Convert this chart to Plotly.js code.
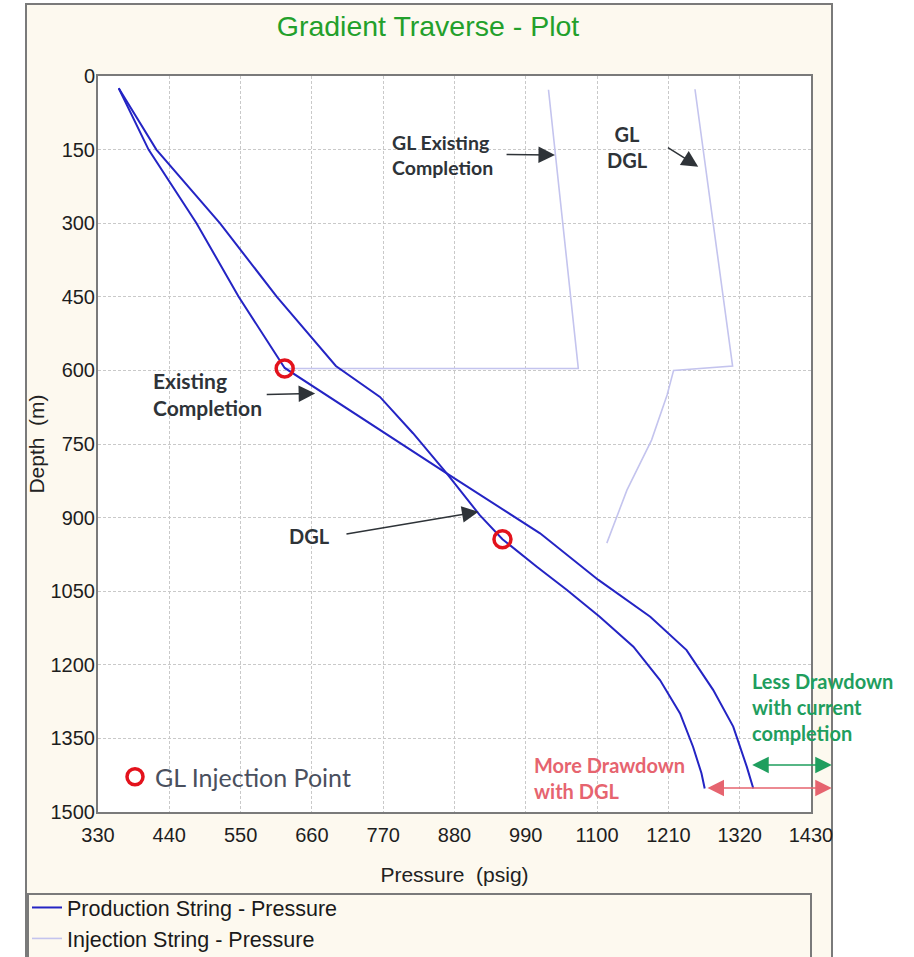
<!DOCTYPE html>
<html>
<head>
<meta charset="utf-8">
<script src="https://cdn.plot.ly/plotly-3.0.1.min.js"></script>
<style>html,body{margin:0;padding:0;background:#fff;}#chart{width:914px;height:957px;}</style>
</head>
<body>
<div id="chart"></div>
<script>
// ---- data ----
const existingPressure = [362, 408, 482, 547, 618, 868, 1012, 1102, 1182, 1238, 1279, 1310, 1331, 1341];
const existingDepth    = [25, 150, 300, 450, 595, 810, 932, 1027, 1102, 1170, 1251, 1326, 1408, 1452];

const dglPressure = [362, 420, 518, 606, 697, 765, 816, 868, 919, 954, 1007, 1053, 1104, 1156, 1197, 1228, 1248, 1261, 1266];
const dglDepth    = [25, 150, 300, 450, 591, 654, 728, 810, 895, 944, 1000, 1047, 1102, 1163, 1231, 1299, 1367, 1421, 1452];

const injExistingPressure = [1025, 1071, 618];
const injExistingDepth    = [28, 596, 596];

const injDglPressure = [1251, 1264, 1279, 1295, 1309, 1218, 1208, 1184, 1146, 1115];
const injDglDepth    = [27, 151, 300, 457, 591, 600, 650, 742, 844, 952];

const injPointPressure = [618, 954];
const injPointDepth    = [596, 944];

const xTickVals = [330, 440, 550, 660, 770, 880, 990, 1100, 1210, 1320, 1430];
const yTickVals = [0, 150, 300, 450, 600, 750, 900, 1050, 1200, 1350, 1500];

const seriesNames = ['Production String - Pressure', 'Injection String - Pressure', 'GL Injection Point'];

// ---- styling ----
const ARIAL = 'Liberation Sans, Arial, sans-serif';
const LATO = 'Lato, Carlito, sans-serif';
const PROD = '#2424c4';
const INJ = '#c4c4ee';
const BEIGE = '#fdf9ef';
const FRAME = '#7a7a7a';
const DARK = '#2e3338';
const GREEN = '#1f9e5e';
const PINK = '#e6646f';

// plot area in pixels: left 98, right 811, top 76, bottom 812
const W = 914, H = 957, L = 98, R = 811, T = 76, B = 812;
const px = v => (v - L) / (R - L);
const py = v => (B - v) / (B - T);

const traces = [
  {x: injExistingPressure, y: injExistingDepth, mode: 'lines', name: seriesNames[1],
   line: {color: INJ, width: 1.6}, showlegend: true, legend: 'legend'},
  {x: injDglPressure, y: injDglDepth, mode: 'lines', name: seriesNames[1],
   line: {color: INJ, width: 1.6}, showlegend: false},
  {x: existingPressure, y: existingDepth, mode: 'lines', name: seriesNames[0],
   line: {color: PROD, width: 2}, showlegend: true, legend: 'legend'},
  {x: dglPressure, y: dglDepth, mode: 'lines', name: seriesNames[0],
   line: {color: PROD, width: 2}, showlegend: false},
  {x: injPointPressure, y: injPointDepth, mode: 'markers', name: seriesNames[2],
   marker: {symbol: 'circle-open', size: 17, color: '#e3121c', line: {width: 3.5, color: '#e3121c'}},
   showlegend: true, legend: 'legend2'}
];

function arrow(xh, yh, xt, yt, color, both) {
  return {x: xh, y: yh, ax: xt, ay: yt, xref: 'x', yref: 'y', axref: 'x', ayref: 'y',
    text: '', showarrow: true, arrowhead: 2, arrowsize: 2.2, arrowwidth: 1.5,
    arrowcolor: color, standoff: 0, startstandoff: 0,
    arrowside: both ? 'end+start' : 'end', startarrowhead: 2, startarrowsize: 2.2};
}
function label(x, y, text, color, xanchor, align, size) {
  return {x: x, y: y, xref: 'x', yref: 'y', text: text, showarrow: false,
    xanchor: xanchor, yanchor: 'middle', align: align,
    font: {family: LATO, size: size || 20, color: color, weight: 'bold'}};
}

const annotations = [
  label(781, 160, 'GL Existing<br>Completion', DARK, 'left', 'left', 19.5),
  label(1147, 145, 'GL<br>DGL', DARK, 'center', 'center'),
  label(411, 649, 'Existing<br>Completion', DARK, 'left', 'left', 21),
  label(621, 937, 'DGL', DARK, 'left', 'left'),
  label(1336, 1287, 'Less Drawdown<br>with current<br>completion', GREEN, 'left', 'left'),
  label(1000, 1431, 'More Drawdown<br>with DGL', PINK, 'left', 'left'),
  arrow(1035, 161, 958, 160, DARK, false),
  arrow(1256, 185, 1207, 144, DARK, false),
  arrow(665, 647, 588, 649, DARK, false),
  arrow(917, 888, 711, 934, DARK, false),
  arrow(1462, 1404, 1337, 1404, GREEN, true),
  arrow(1462, 1451, 1268, 1451, PINK, true)
];

const shapes = [
  {type: 'rect', xref: 'paper', yref: 'paper', layer: 'below',
   x0: px(26), x1: px(832), y0: py(962), y1: py(4),
   fillcolor: BEIGE, line: {color: FRAME, width: 2}},
  {type: 'rect', xref: 'paper', yref: 'paper', layer: 'below',
   x0: 0, x1: 1, y0: 0, y1: 1, fillcolor: '#ffffff', line: {width: 0}},
  {type: 'rect', xref: 'paper', yref: 'paper', layer: 'below',
   x0: px(28), x1: px(811), y0: py(962), y1: py(894),
   fillcolor: BEIGE, line: {color: FRAME, width: 2}}
];

const axisCommon = {
  showline: true, mirror: true, linecolor: FRAME, linewidth: 2,
  showgrid: true, gridcolor: '#c9c9c9', gridwidth: 1, griddash: '3px,2px',
  zeroline: false, ticks: '', automargin: false,
  tickfont: {family: ARIAL, size: 20, color: '#1e1e1e'}
};

const layout = {
  width: W, height: H,
  margin: {l: L, r: W - R, t: T, b: H - B, pad: 0, autoexpand: false},
  paper_bgcolor: '#ffffff', plot_bgcolor: '#ffffff',
  title: {text: 'Gradient Traverse - Plot', x: 428 / W, xanchor: 'center', y: 1 - 26 / H, yanchor: 'middle',
          font: {family: ARIAL, size: 28.5, color: '#23a02b'}},
  xaxis: Object.assign({}, axisCommon, {
    range: [330, 1430], tickmode: 'array', tickvals: xTickVals, ticktext: xTickVals.map(String),
    ticklabelstandoff: 4,
    title: {text: 'Pressure  (psig)', standoff: 22, font: {family: ARIAL, size: 21, color: '#222'}}
  }),
  yaxis: Object.assign({}, axisCommon, {
    range: [1500, 0], tickmode: 'array', tickvals: yTickVals, ticktext: yTickVals.map(String),
    ticklabelstandoff: -3,
    title: {text: 'Depth  (m)', standoff: 0, font: {family: ARIAL, size: 21, color: '#222'}}
  }),
  showlegend: true,
  legend: {x: px(27), y: py(887), xanchor: 'left', yanchor: 'top', bgcolor: 'rgba(0,0,0,0)',
           borderwidth: 0, tracegroupgap: 0, traceorder: 'reversed',
           font: {family: ARIAL, size: 21.5, color: '#1a1a1a'}},
  legend2: {x: px(115), y: py(777), xanchor: 'left', yanchor: 'middle', bgcolor: 'rgba(0,0,0,0)',
            borderwidth: 0, font: {family: LATO, size: 25, color: '#4a505e'}},
  annotations: annotations,
  shapes: shapes,
  hovermode: false
};

Plotly.newPlot('chart', traces, layout, {staticPlot: true, displayModeBar: false});
</script>
</body>
</html>
